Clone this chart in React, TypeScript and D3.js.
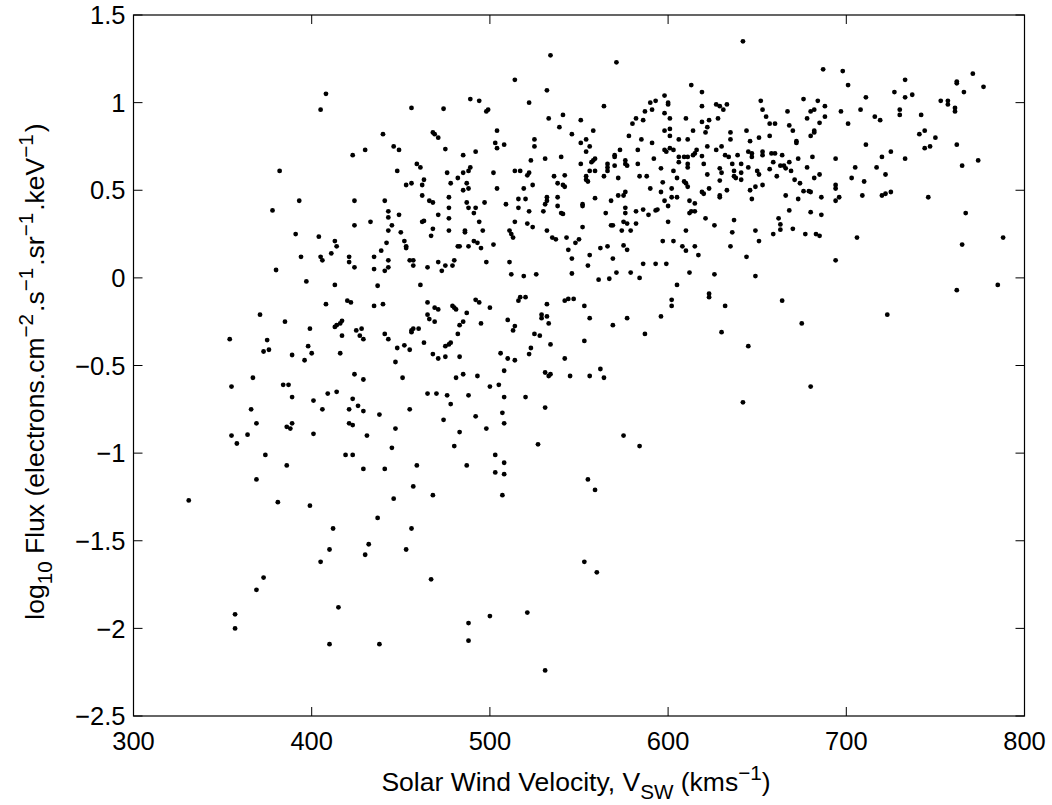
import React from "react";
import * as d3 from "d3";

// Solar wind velocity (km/s) vs log10 flux
const points: [number, number][] = [
  [408,1.05],[405,0.96],[382,0.61],[393,0.44],[378,0.385],[391,0.25],[404,0.235],[413,0.21],[414,0.18],[411,0.14],
  [534,1.27],[571,1.23],[514,1.13],[532,1.07],[598,1.04],[489,1.02],[494,1.01],[522,1.0],[600,1.0],[600,0.99],[593,1.01],[590,1.0],[456,0.97],[474,0.965],[499,0.96],[498,0.95],[564,0.98],[587,0.95],[591,0.96],[598,0.94],[533,0.91],[541,0.93],[582,0.91],[586,0.90],[601,0.91],[580,0.88],[539,0.86],[551,0.90],[504,0.84],[598,0.84],[601,0.85],[601,0.81],[440,0.82],[468,0.83],[469,0.82],[471,0.80],[546,0.82],[558,0.84],[578,0.81],[525,0.79],[525,0.75],[554,0.79],[556,0.75],[554,0.72],[585,0.79],[591,0.77],[551,0.77],[503,0.77],[504,0.74],[508,0.76],[446,0.75],[449,0.73],[475,0.735],[573,0.73],[583,0.73],[598,0.73],[599,0.72],[601,0.74],[430,0.73],[423,0.70],[492,0.72],[485,0.70],[570,0.69],[570,0.70],[540,0.69],[531,0.68],[592,0.68],[523,0.67],[576,0.67],[576,0.65],[577,0.64],[559,0.68],[558,0.67],[557,0.66],[551,0.65],[566,0.65],[566,0.63],[566,0.61],[570,0.64],[583,0.65],[459,0.65],[461,0.63],[489,0.63],[488,0.61],[485,0.60],[596,0.625],[448,0.61],[476,0.60],[502,0.60],[514,0.61],[517,0.61],[522,0.60],[521,0.585],[556,0.61],[559,0.61],[554,0.58],[554,0.56],[555,0.55],[564,0.58],[536,0.58],[542,0.585],[482,0.57],[584,0.58],[588,0.58],[572,0.57],[463,0.56],[462,0.53],[456,0.54],[453,0.53],[478,0.54],[487,0.54],[488,0.51],[485,0.50],[538,0.54],[541,0.53],[542,0.52],[524,0.53],[597,0.545],[504,0.51],[519,0.51],[590,0.51],[596,0.49],[462,0.47],[477,0.46],[538,0.46],[576,0.49],[575,0.47],[572,0.47],[559,0.455],[568,0.44],[516,0.45],[520,0.45],[532,0.46],[532,0.44],[531,0.42],[441,0.44],[424,0.44],[466,0.44],[468,0.43],[487,0.43],[497,0.43],[598,0.44],[600,0.41],[509,0.42],[552,0.42],[552,0.41],[538,0.41],[516,0.40],[488,0.40],[492,0.40],[491,0.37],[477,0.40],[477,0.34],[576,0.40],[576,0.37],[582,0.38],[586,0.39],[594,0.39],[593,0.385],[522,0.38],[530,0.38],[443,0.38],[443,0.345],[449,0.36],[471,0.36],[540,0.37],[541,0.365],[565,0.37],[589,0.36],[424,0.30],[433,0.32],[462,0.32],[463,0.325],[494,0.32],[514,0.32],[521,0.31],[524,0.29],[568,0.30],[569,0.30],[575,0.32],[577,0.31],[582,0.31],[600,0.32],[552,0.29],[443,0.27],[445,0.30],[450,0.26],[468,0.28],[477,0.27],[486,0.27],[486,0.26],[496,0.27],[511,0.27],[512,0.25],[513,0.23],[532,0.27],[574,0.27],[579,0.27],[467,0.24],[535,0.23],[537,0.22],[543,0.23],[550,0.22],[548,0.20],[544,0.16],[452,0.21],[453,0.18],[453,0.17],[442,0.20],[439,0.155],[482,0.18],[483,0.18],[488,0.18],[491,0.21],[493,0.20],[495,0.17],[502,0.19],[575,0.185],[577,0.16],[597,0.21],[562,0.17],[566,0.18],
  [642,1.35],[687,1.19],[698,1.18],[701,1.10],[771,1.165],[762,1.12],[762,1.11],[777,1.09],[766,1.06],[733,1.13],[727,1.06],[737,1.045],[733,1.03],[711,1.03],[613,1.10],[619,1.06],[676,1.02],[684,1.01],[652,1.01],[627,0.99],[629,0.98],[631,0.96],[633,0.99],[619,0.98],[653,0.96],[688,0.98],[682,0.96],[680,0.95],[678,0.91],[697,0.95],[708,0.96],[730,0.96],[730,0.93],[753,1.01],[757,1.01],[757,0.99],[761,0.97],[761,0.95],[742,0.93],[667,0.95],[610,0.91],[628,0.91],[623,0.90],[619,0.89],[655,0.92],[657,0.88],[660,0.88],[668,0.87],[670,0.84],[688,0.92],[685,0.885],[716,0.92],[719,0.90],[701,0.88],[614,0.84],[622,0.86],[621,0.83],[635,0.83],[635,0.79],[644,0.84],[646,0.78],[657,0.81],[651,0.80],[672,0.78],[672,0.77],[682,0.84],[682,0.83],[680,0.81],[741,0.82],[744,0.84],[750,0.80],[744,0.74],[747,0.75],[711,0.76],[762,0.76],[606,0.79],[611,0.79],[603,0.73],[606,0.69],[609,0.69],[606,0.66],[611,0.69],[611,0.65],[611,0.63],[614,0.70],[615,0.71],[616,0.73],[619,0.695],[622,0.75],[627,0.73],[630,0.75],[632,0.70],[634,0.69],[639,0.70],[645,0.72],[647,0.71],[647,0.69],[653,0.72],[653,0.70],[658,0.71],[660,0.71],[664,0.70],[673,0.68],[681,0.69],[694,0.68],[720,0.69],[725,0.72],[733,0.68],[774,0.67],[765,0.64],[603,0.61],[605,0.57],[609,0.55],[610,0.54],[611,0.52],[602,0.51],[605,0.46],[602,0.46],[612,0.44],[615,0.425],[613,0.38],[612,0.37],[615,0.38],[620,0.65],[622,0.59],[623,0.51],[619,0.49],[620,0.48],[621,0.34],[626,0.30],[610,0.27],[603,0.21],[608,0.18],[610,0.155],[615,0.18],[629,0.625],[630,0.60],[629,0.555],[629,0.47],[629,0.46],[633,0.50],[636,0.65],[637,0.61],[637,0.58],[638,0.57],[641,0.60],[641,0.56],[641,0.65],[645,0.63],[646,0.50],[647,0.45],[649,0.52],[650,0.61],[651,0.59],[653,0.53],[657,0.62],[659,0.66],[661,0.58],[663,0.64],[665,0.64],[668,0.66],[666,0.625],[669,0.61],[671,0.56],[666,0.47],[673,0.45],[674,0.54],[676,0.495],[679,0.495],[680,0.49],[678,0.63],[682,0.57],[685,0.59],[686,0.46],[668,0.385],[680,0.375],[686,0.36],[694,0.53],[694,0.51],[694,0.44],[696,0.46],[703,0.57],[705,0.63],[710,0.55],[709,0.47],[706,0.23],[717,0.63],[722,0.59],[720,0.47],[722,0.48],[725,0.49],[746,0.46],[767,0.37],[788,0.23],[765,0.19],[662,0.34],[663,0.305],[663,0.275],[659,0.25],[670,0.28],[677,0.25],[683,0.25],[685,0.24],[651,0.21],[649,0.27],[637,0.33],[636,0.26],[635,0.18],
  [394,0.12],[405,0.12],[406,0.10],[421,0.12],[421,0.09],[424,0.06],[435,0.12],[435,0.05],[443,0.10],[443,0.06],[441,0.04],[455,0.10],[457,0.10],[457,0.07],[465,0.06],[471,0.09],[473,0.04],[475,0.07],[479,0.07],[480,0.10],[380,0.045],[397,-0.02],[413,-0.04],[437,-0.045],[461,-0.04],[408,-0.15],[420,-0.13],[422,-0.14],[435,-0.16],[440,-0.15],[465,-0.14],[469,-0.17],[471,-0.18],[479,-0.16],[480,-0.17],[481,-0.18],[487,-0.20],[371,-0.21],[385,-0.25],[399,-0.29],[413,-0.28],[414,-0.27],[416,-0.26],[417,-0.245],[417,-0.33],[425,-0.30],[428,-0.29],[427,-0.33],[429,-0.35],[441,-0.32],[443,-0.35],[457,-0.29],[456,-0.30],[456,-0.31],[460,-0.29],[465,-0.21],[466,-0.235],[469,-0.25],[463,-0.37],[482,-0.32],[483,-0.27],[485,-0.25],[475,-0.39],[477,-0.38],[478,-0.37],[354,-0.35],[375,-0.355],[376,-0.41],[373,-0.42],[389,-0.44],[396,-0.47],[398,-0.39],[400,-0.43],[416,-0.43],[447,-0.48],[448,-0.40],[452,-0.385],[455,-0.41],[468,-0.435],[471,-0.46],[475,-0.45],[483,-0.45],[367,-0.57],[355,-0.62],[384,-0.61],[387,-0.61],[389,-0.68],[409,-0.66],[414,-0.65],[424,-0.55],[429,-0.58],[451,-0.57],[423,-0.69],[465,-0.66],[470,-0.66],[476,-0.67],[478,-0.72],[481,-0.57],[485,-0.55],[488,-0.67],[401,-0.70],[406,-0.75],[421,-0.75],[426,-0.73],[429,-0.76],[438,-0.78],[455,-0.75],[366,-0.75],[369,-0.83],[386,-0.85],[388,-0.86],[389,-0.83],[355,-0.90],[358,-0.945],[364,-0.895],[401,-0.89],[421,-0.83],[423,-0.84],[431,-0.90],[447,-0.86],[474,-0.81],[483,-0.88],[374,-1.01],[419,-1.01],[423,-1.01],[445,-0.97],[480,-0.96],[386,-1.07],[429,-1.09],[441,-1.09],[459,-1.07],[487,-1.07],[369,-1.15],
  [498,0.09],[511,0.09],[512,0.02],[519,0.01],[526,0.02],[546,0.11],[546,0.025],[556,0.13],[555,0.07],[569,0.11],[586,0.08],[593,0.08],[599,0.08],[617,0.13],[644,0.12],[561,-0.01],[567,-0.005],[571,0.03],[579,0.03],[584,0.0],[612,0.03],[626,0.02],[649,0.01],[605,-0.04],[623,-0.09],[623,-0.11],[602,-0.125],[602,-0.16],[632,-0.16],[664,-0.13],[492,-0.125],[494,-0.14],[500,-0.17],[516,-0.13],[517,-0.11],[520,-0.11],[532,-0.15],[542,-0.13],[544,-0.12],[547,-0.12],[553,-0.16],[495,-0.26],[510,-0.24],[514,-0.275],[513,-0.30],[529,-0.21],[529,-0.23],[532,-0.22],[533,-0.26],[556,-0.23],[569,-0.27],[577,-0.23],[596,-0.22],[525,-0.32],[528,-0.33],[587,-0.32],[553,-0.36],[630,-0.31],[523,-0.40],[522,-0.435],[534,-0.38],[506,-0.43],[510,-0.46],[514,-0.47],[542,-0.46],[645,-0.39],[493,-0.56],[508,-0.53],[531,-0.54],[533,-0.56],[534,-0.55],[545,-0.56],[556,-0.56],[562,-0.52],[564,-0.57],[500,-0.62],[505,-0.61],[508,-0.68],[520,-0.68],[531,-0.74],[492,-0.79],[507,-0.77],[508,-0.83],[498,-0.86],[642,-0.71],[527,-0.95],[575,-0.90],[584,-0.96],[503,-1.01],[508,-1.055],[503,-1.11],[508,-1.12],[555,-1.15],
  [675,-0.26],[680,-0.62],[694,0.10],[723,-0.21],[762,-0.07],[785,-0.04],
  [457,-1.19],[331,-1.27],[381,-1.28],[399,-1.30],[446,-1.26],[468,-1.24],[437,-1.37],[412,-1.43],[456,-1.43],[410,-1.55],[432,-1.52],[430,-1.58],[453,-1.55],[405,-1.62],[373,-1.71],[369,-1.78],[467,-1.72],[415,-1.88],[357,-1.92],[357,-2.0],[410,-2.09],[438,-2.09],[488,-1.97],[488,-2.07],
  [507,-1.24],[559,-1.21],[553,-1.62],[560,-1.68],[500,-1.93],[521,-1.91],[531,-2.24],
];

const xTicks = [300, 400, 500, 600, 700, 800];
const xTickLabels = ["300", "400", "500", "600", "700", "800"];
const yTicks = [1.5, 1, 0.5, 0, -0.5, -1, -1.5, -2, -2.5];
const yTickLabels = ["1.5", "1", "0.5", "0", "\u22120.5", "\u22121", "\u22121.5", "\u22122", "\u22122.5"];

const W = 1052;
const H = 805;
const left = 133.5;
const right = 1024.5;
const top = 15;
const bottom = 716;
const FONT = "'Liberation Sans', Arial, Helvetica, sans-serif";
const FS = 25.5;
const LFS = 26.5;
const TICK = 9;

export default function App() {
  const x = d3.scaleLinear().domain([300, 800]).range([left, right]);
  const y = d3.scaleLinear().domain([-2.5, 1.5]).range([bottom, top]);
  const midX = (left + right) / 2;
  const midY = (top + bottom) / 2 + 6;
  const supFs = LFS * 0.78;

  return (
    <svg
      width={W}
      height={H}
      style={{ position: "absolute", left: 0, top: 0, background: "#fff" }}
      fontFamily={FONT}
    >
      <rect x={0} y={0} width={W} height={H} fill="#fff" />
      {points.map(([vx, vy], i) => (
        <circle key={i} cx={x(vx)} cy={y(vy)} r={2.4} fill="#000" />
      ))}
      <rect
        x={left}
        y={top}
        width={right - left}
        height={bottom - top}
        fill="none"
        stroke="#000"
        strokeWidth={1.2}
      />
      {xTicks.map((t, i) => (
        <g key={"xt" + i}>
          <line x1={x(t)} x2={x(t)} y1={bottom} y2={bottom - TICK} stroke="#000" strokeWidth={1} />
          <line x1={x(t)} x2={x(t)} y1={top} y2={top + TICK} stroke="#000" strokeWidth={1} />
          <text x={x(t)} y={bottom + 34} textAnchor="middle" fontSize={FS} fill="#000">
            {xTickLabels[i]}
          </text>
        </g>
      ))}
      {yTicks.map((t, i) => (
        <g key={"yt" + i}>
          <line x1={left} x2={left + TICK} y1={y(t)} y2={y(t)} stroke="#000" strokeWidth={1} />
          <line x1={right} x2={right - TICK} y1={y(t)} y2={y(t)} stroke="#000" strokeWidth={1} />
          <text x={left - 8} y={y(t)} dy="0.36em" textAnchor="end" fontSize={FS} fill="#000">
            {yTickLabels[i]}
          </text>
        </g>
      ))}
      <text x={midX - 3} y={791} textAnchor="middle" fontSize={LFS} fill="#000">
        <tspan>Solar Wind Velocity, V</tspan>
        <tspan dy={8} fontSize={supFs}>SW</tspan>
        <tspan dy={-8}> (kms</tspan>
        <tspan dy={-11} fontSize={supFs}>{"\u22121"}</tspan>
        <tspan dy={11}>)</tspan>
      </text>
      <text
        transform={`translate(43.5,${midY}) rotate(-90)`}
        textAnchor="middle"
        fontSize={LFS}
        fill="#000"
      >
        <tspan>log</tspan>
        <tspan dy={8} fontSize={supFs}>10</tspan>
        <tspan dy={-8}> Flux (electrons.cm</tspan>
        <tspan dy={-11} fontSize={supFs}>{"\u22122"}</tspan>
        <tspan dx={2} dy={11}>.s</tspan>
        <tspan dy={-11} fontSize={supFs}>{"\u22121"}</tspan>
        <tspan dx={2} dy={11}>.sr</tspan>
        <tspan dy={-11} fontSize={supFs}>{"\u22121"}</tspan>
        <tspan dx={2} dy={11}>.keV</tspan>
        <tspan dy={-11} fontSize={supFs}>{"\u22121"}</tspan>
        <tspan dx={2} dy={11}>)</tspan>
      </text>
    </svg>
  );
}
